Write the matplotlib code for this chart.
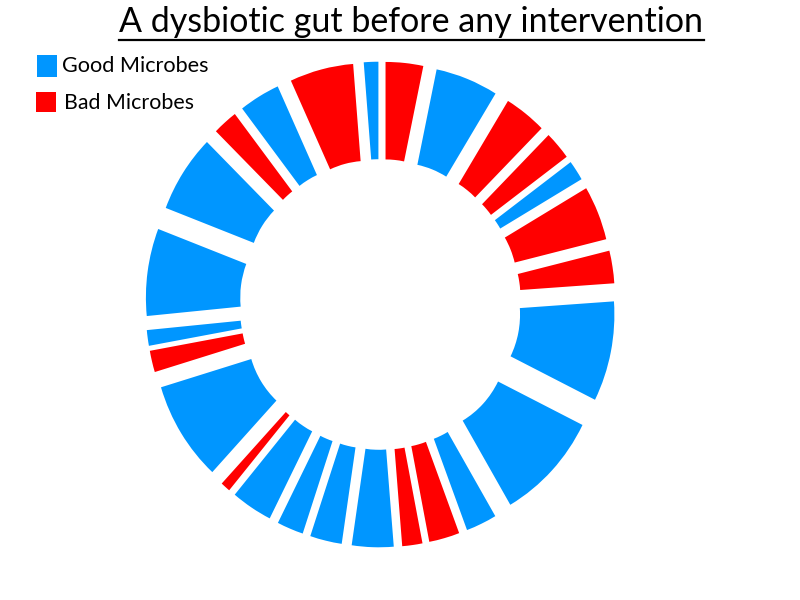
import matplotlib
matplotlib.use("Agg")
import matplotlib.pyplot as plt
from matplotlib.patches import Rectangle
from matplotlib.lines import Line2D

# ---- data ----
title = "A dysbiotic gut before any intervention"
legend_labels = ["Good Microbes", "Bad Microbes"]
kinds = ["Bad", "Good", "Bad", "Bad", "Good", "Bad", "Bad", "Good", "Good", "Good",
         "Bad", "Bad", "Good", "Good", "Good", "Good", "Bad", "Good", "Bad", "Good",
         "Good", "Good", "Bad", "Good", "Bad", "Good"]
values = [11.9, 19.9, 13.4, 8.7, 6.2, 16.7, 10.0, 30.7, 33.5, 9.8,
          9.7, 6.4, 13.2, 10.1, 8.4, 13.1, 3.1, 30.6, 6.6, 4.8,
          26.8, 23.9, 7.9, 13.0, 20.2, 4.6]

BLUE = "#0096FF"
RED = "#FF0000"
color_map = {"Good": BLUE, "Bad": RED}
colors = [color_map[k] for k in kinds]

W, H = 800, 600
fig = plt.figure(figsize=(8, 6), dpi=100)
FONT = "Lato"

# donut axes: center at (380.4, 304.5) px
cx, cy = 380.4, 304.5
ux, uy = 185.0, 191.2
ax = fig.add_axes([(cx - 1.5 * ux) / W, (H - cy - 1.5 * uy) / H, 3 * ux / W, 3 * uy / H])
ax.pie(values, colors=colors, startangle=90, counterclock=False,
       explode=[0.27] * len(values),
       wedgeprops=dict(width=0.51, linewidth=0))
ax.set_aspect("auto")
ax.set_xlim(-1.5, 1.5)
ax.set_ylim(-1.5, 1.5)
ax.axis("off")

renderer = fig.canvas.get_renderer()

def fit_text(x_px, baseline_px, s, width_px, size0):
    t = fig.text(x_px / W, 1 - baseline_px / H, s, fontsize=size0, family=FONT,
                 ha="left", va="baseline", color="black")
    w = t.get_window_extent(renderer).width
    t.set_fontsize(size0 * width_px / w)
    return t

# title with underline
fit_text(119, 32, title, 583, 22)
fig.add_artist(Line2D([119 / W, 704 / W], [1 - 39.5 / H, 1 - 39.5 / H],
                      transform=fig.transFigure, color="black", linewidth=1.6))

# legend
fig.add_artist(Rectangle((37 / W, 1 - 77 / H), 20 / W, 22 / H,
                         transform=fig.transFigure, color=BLUE, linewidth=0))
fit_text(61.7, 72.3, legend_labels[0], 147, 16)
fig.add_artist(Rectangle((36 / W, 1 - 112 / H), 20 / W, 20 / H,
                         transform=fig.transFigure, color=RED, linewidth=0))
fit_text(64.3, 109, legend_labels[1], 130, 16)

fig.savefig("out.png", dpi=100)
